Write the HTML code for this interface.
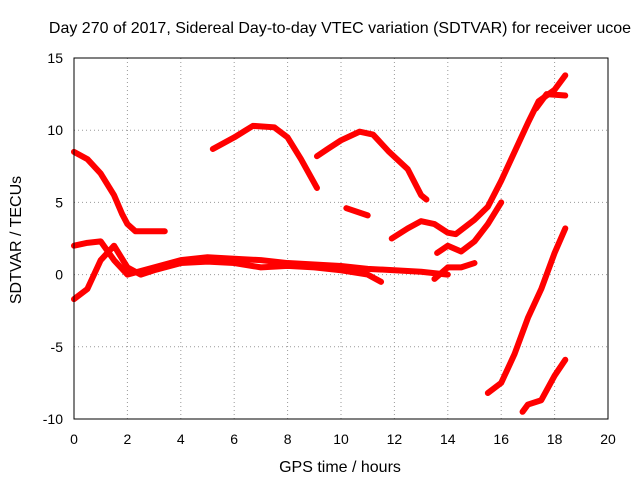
<!DOCTYPE html>
<html><head><meta charset="utf-8"><style>
body{margin:0;background:#fff}
svg{display:block;font-family:"Liberation Sans",sans-serif;font-size:14px}
</style></head><body>
<svg id="chart" width="640" height="480">
<text x="340" y="33" text-anchor="middle" font-size="16">Day 270 of 2017, Sidereal Day-to-day VTEC variation (SDTVAR) for receiver ucoe</text>
<text x="340" y="472" text-anchor="middle" font-size="16">GPS time / hours</text>
<text x="21" y="240" text-anchor="middle" font-size="16" transform="rotate(-90 21 240)">SDTVAR / TECUs</text>
<g id="grid"></g><g id="ticks"></g><g id="series"></g>
<rect x="74" y="58" width="534" height="361" fill="none" stroke="#000"/>
</svg>
<script>
const xTicks=[0,2,4,6,8,10,12,14,16,18,20];
const yTicks=[-10,-5,0,5,10,15];
const s1=[[0,8.5],[0.5,8],[1,7],[1.5,5.5],[1.8,4.2],[2,3.5],[2.3,3],[3,3],[3.4,3]];
const s2=[[5.2,8.7],[6,9.5],[6.7,10.3],[7.5,10.2],[8,9.5],[8.5,8],[9.1,6]];
const s3=[[9.1,8.2],[9.5,8.7],[10,9.3],[10.7,9.9],[11.2,9.7],[11.8,8.5],[12.5,7.3],[13,5.5],[13.2,5.2]];
const s4=[[10.2,4.6],[11,4.1]];
const s5=[[11.9,2.5],[12.5,3.2],[13,3.7],[13.5,3.5],[14,2.9],[14.3,2.8],[15,3.8],[15.5,4.7],[16,6.5],[16.5,8.5],[17,10.5],[17.4,12],[18,12.8],[18.4,13.8]];
const s6=[[17.3,11.5],[17.7,12.5],[18.4,12.4]];
const s7=[[13.6,1.5],[14,2],[14.5,1.6],[15,2.3],[15.5,3.5],[16,5]];
const s8=[[0,2],[0.5,2.2],[1,2.3],[1.5,1],[2,0],[3,0.5],[4,1],[5,1.2],[6,1.1],[7,1],[8,0.8],[9,0.7],[10,0.6],[11,0.4],[12,0.3],[13,0.2],[14,0]];
const s9=[[0,-1.7],[0.5,-1],[1,1],[1.5,2],[2,0.5],[2.5,0],[3,0.3],[4,0.8],[5,0.9],[6,0.8],[7,0.5],[8,0.6],[9,0.5],[10,0.3],[11,0],[11.5,-0.5]];
const s10=[[13.5,-0.3],[14,0.5],[14.5,0.5],[15,0.8]];
const s11=[[15.5,-8.2],[16,-7.5],[16.5,-5.5],[17,-3],[17.5,-1],[18,1.5],[18.4,3.2]];
const s12=[[16.8,-9.5],[17,-9],[17.5,-8.7],[18,-7],[18.4,-5.9]];
const allSeries=[s1,s2,s3,s4,s5,s6,s7,s8,s9,s10,s11,s12];
const X=v=>74+v/20*534, Y=v=>58+(15-v)/25*361;
const NS="http://www.w3.org/2000/svg";
const g=document.getElementById('grid'),t=document.getElementById('ticks'),sg=document.getElementById('series');
function mk(tag,attrs,parent){const e=document.createElementNS(NS,tag);for(const k in attrs)e.setAttribute(k,attrs[k]);parent.appendChild(e);return e;}
xTicks.forEach(v=>{
 const l=mk('line',{x1:X(v),x2:X(v),y1:58,y2:419,stroke:'#999','stroke-dasharray':'1,3'},g);
 
 
 const tx=mk('text',{x:X(v),y:444,'text-anchor':'middle'},t);tx.textContent=v;
 
 
});
yTicks.forEach(v=>{
 const l=mk('line',{x1:74,x2:608,y1:Y(v),y2:Y(v),stroke:'#999','stroke-dasharray':'1,3'},g);
 
 
 const tx=mk('text',{x:63,y:Y(v)+5,'text-anchor':'end'},t);tx.textContent=v;
 
 
});
allSeries.forEach(s=>{
 const p=mk('polyline',{points:s.map(d=>X(d[0])+','+Y(d[1])).join(' '),fill:'none',stroke:'#f00','stroke-width':6,'stroke-linejoin':'round','stroke-linecap':'round'},sg);
 
 
});
</script>
</body></html>
